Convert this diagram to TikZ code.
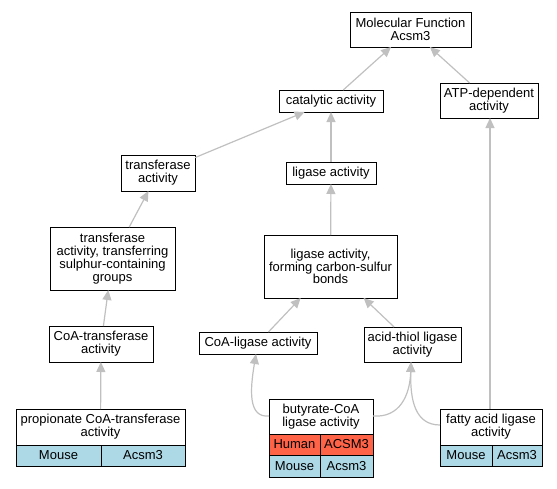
\documentclass[tikz,border=0pt]{standalone}
\usepackage{fontspec}
\setmainfont{Liberation Sans}
\usetikzlibrary{arrows.meta}
\definecolor{edgegray}{HTML}{C0C0C0}
\definecolor{mouseblue}{HTML}{ADD8E6}
\definecolor{humanred}{HTML}{FF6347}
\tikzset{
  gobox/.style={draw=black, line width=1pt, fill=white, inner sep=0pt, outer sep=0pt,
    align=center, font=\fontsize{13}{12.8}\selectfont},
  cellbox/.style={draw=black, line width=1pt, inner sep=0pt, outer sep=0pt,
    align=center, font=\fontsize{13}{12.8}\selectfont},
  goedge/.style={draw=edgegray, line width=1.2pt, -{Triangle[length=10pt,width=9pt]}},
}
\begin{document}
\begin{tikzpicture}[x=1pt,y=-1pt]
\useasboundingbox (0,0) rectangle (557,488);
% plain GO term nodes
\node[gobox, minimum width=121, minimum height=35] (mf) at (410.5,29.5) {Molecular Function\\Acsm3};
\node[gobox, minimum width=104, minimum height=22] (cat) at (331,101) {catalytic activity};
\node[gobox, minimum width=98, minimum height=35] (atp) at (489,100.5) {ATP-dependent\\activity};
\node[gobox, minimum width=74, minimum height=36] (trans) at (158,173) {transferase\\activity};
\node[gobox, minimum width=90, minimum height=22] (lig) at (331,173) {ligase activity};
\node[gobox, minimum width=125, minimum height=63] (sulph) at (112.5,258.5) {transferase\\activity, transferring\\sulphur-containing\\groups};
\node[gobox, minimum width=133, minimum height=63] (cs) at (330.5,266.5) {ligase activity,\\forming carbon-sulfur\\bonds};
\node[gobox, minimum width=104, minimum height=36] (coat) at (101,344) {CoA-transferase\\activity};
\node[gobox, minimum width=118, minimum height=22] (coal) at (258,343) {CoA-ligase activity};
\node[gobox, minimum width=97, minimum height=35] (acid) at (412.5,344.5) {acid-thiol ligase\\activity};
% propionate table
\node[gobox, minimum width=169, minimum height=36] (prop) at (100.5,427) {propionate CoA-transferase\\activity};
\node[cellbox, fill=mouseblue, minimum width=85, minimum height=21] (propm) at (58.5,455.5) {Mouse};
\node[cellbox, fill=mouseblue, minimum width=84, minimum height=21] (propg) at (143,455.5) {Acsm3};
% butyrate table
\node[gobox, minimum width=104, minimum height=35] (buty) at (321,416.5) {butyrate-CoA\\ligase activity};
\node[cellbox, fill=humanred, minimum width=51, minimum height=21] (butyh) at (294.5,444.5) {Human};
\node[cellbox, fill=humanred, minimum width=53, minimum height=21] (butyhg) at (346.5,444.5) {ACSM3};
\node[cellbox, fill=mouseblue, minimum width=51, minimum height=22] (butym) at (294.5,466) {Mouse};
\node[cellbox, fill=mouseblue, minimum width=53, minimum height=22] (butymg) at (346.5,466) {Acsm3};
% fatty acid table
\node[gobox, minimum width=102, minimum height=36] (fatty) at (491,427) {fatty acid ligase\\activity};
\node[cellbox, fill=mouseblue, minimum width=52, minimum height=21] (fattym) at (466,455.5) {Mouse};
\node[cellbox, fill=mouseblue, minimum width=50, minimum height=21] (fattyg) at (517,455.5) {Acsm3};
% edges
\draw[goedge] (cat) -- (mf);
\draw[goedge] (atp) -- (mf);
\draw[goedge] (trans) -- (cat);
\draw[goedge] (lig) -- (cat);
\draw[goedge] (sulph) -- (trans);
\draw[goedge] (cs) -- (lig);
\draw[goedge] (coal) -- (cs);
\draw[goedge] (acid) -- (cs);
\draw[goedge] (coat) -- (sulph);
\draw[goedge] (prop) -- (coat);
\draw[goedge] (buty.west |- 0,416) .. controls (248,418) and (250,390) .. (coal.south -| 256,0);
\draw[goedge] (buty.east |- 0,416) .. controls (400,418) and (410,395) .. (acid.south -| 411,0);
\draw[goedge] (fatty.west |- 0,425) .. controls (415,425) and (410,400) .. (acid.south -| 411,0);
\draw[goedge] (fatty.north -| 490,0) -- (atp.south -| 490,0);
\end{tikzpicture}
\end{document}
